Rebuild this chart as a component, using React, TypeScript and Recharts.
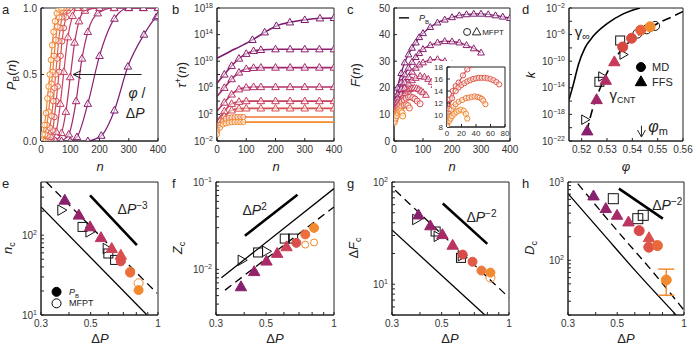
import React from 'react';
import { ComposedChart, Line, XAxis, YAxis, ReferenceDot, ReferenceArea, ErrorBar } from 'recharts';

const FONT = '"Liberation Sans", Arial, sans-serif';
const INK = '#222';
const TXT = '#333';

// colour ramp: small dP (purple) -> large dP (orange)
const RAMP = ['#7B1B6F', '#8E1F6E', '#A2276B', '#B63166', '#C83E5D', '#D64D50', '#E26343', '#EC7736', '#F3892B'];
const TRI_C = ['#87206E', '#96236A', '#A82A67', '#BC3461', '#CC4257', '#D9504C'];

// ---------- a: P_B(n)
const aTicksX = [0, 100, 200, 300, 400];
const aTicksY = [0, 0.5, 1];
const aCurves = [
  [[160, 0], [206, 0.04], [251, 0.23], [297, 0.56], [352, 0.8], [394, 0.93], [400, 0.94]],
  [[100, 0], [123, 0.03], [160, 0.28], [200, 0.64], [251, 0.92], [300, 1], [350, 1], [400, 1]],
  [[70, 0], [95, 0.05], [120, 0.3], [140, 0.62], [160, 0.82], [194, 0.96], [250, 1], [300, 1], [350, 1], [400, 1]],
  [[50, 0], [70, 0.06], [85, 0.22], [100, 0.48], [115, 0.74], [130, 0.9], [150, 0.98], [200, 1], [250, 1]],
  [[35, 0], [52, 0.07], [66, 0.28], [78, 0.52], [92, 0.78], [108, 0.94], [125, 1], [150, 1]],
  [[25, 0], [33, 0.03], [40, 0.08], [46, 0.18], [52, 0.3], [57, 0.41], [62, 0.52], [67, 0.64], [72, 0.75], [78, 0.85], [85, 0.93], [92, 0.98], [100, 1]],
  [[15, 0], [22, 0.04], [30, 0.1], [36, 0.19], [42, 0.3], [46, 0.4], [50, 0.5], [55, 0.62], [60, 0.75], [66, 0.85], [72, 0.93], [80, 0.98], [88, 1]],
  [[8, 0], [14, 0.05], [20, 0.12], [26, 0.22], [32, 0.35], [36, 0.43], [40, 0.52], [45, 0.64], [50, 0.76], [56, 0.86], [62, 0.93], [70, 0.98], [78, 1]],
  [[0, 0.02], [6, 0.05], [12, 0.12], [17, 0.21], [22, 0.32], [26, 0.41], [30, 0.5], [34, 0.61], [38, 0.72], [43, 0.82], [48, 0.9], [54, 0.96], [60, 0.99], [70, 1]],
];
const aArrow = [[344, 0.5], [110, 0.5]];

// ---------- b: tau+(n)
const bTicksX = [0, 100, 200, 300, 400];
const bTicksY = [1e-2, 1, 1e2, 1e4, 1e6, 1e8, 1e10, 1e12, 1e14, 1e16, 1e18];
const bCurves = [
  [[0, 2.8e10], [25, 1e11], [50, 4e11], [75, 1.3e12], [100, 5e12], [121, 1.6e13], [163, 2.2e14], [203, 2e15], [249, 7e15], [300, 1.6e16], [352, 2.8e16], [400, 3.2e16]],
  [[0, 5e6], [25, 1e8], [50, 2e9], [75, 2.5e10], [100, 1.3e11], [125, 3.5e11], [150, 5e11], [200, 6.3e11], [250, 6.3e11], [300, 6.3e11], [350, 6.3e11], [400, 6.3e11]],
  [[0, 5e4], [25, 1e6], [50, 2e7], [75, 2e8], [100, 7e8], [125, 1e9], [150, 1.1e9], [200, 1.1e9], [250, 1.1e9], [300, 1.1e9], [350, 1.1e9], [400, 1.1e9]],
  [[0, 300], [25, 6e3], [50, 1e5], [75, 6e5], [100, 1.1e6], [125, 1.3e6], [150, 1.3e6], [200, 1.3e6], [250, 1.3e6], [300, 1.3e6], [350, 1.3e6], [400, 1.3e6]],
  [[0, 10], [25, 300], [50, 4e3], [75, 8e3], [100, 1e4], [150, 1e4], [200, 1e4], [250, 1e4], [300, 1e4], [350, 1e4], [400, 1e4]],
  [[0, 2], [25, 50], [50, 400], [75, 750], [100, 800], [150, 800], [200, 800], [250, 800], [300, 800], [350, 800], [400, 800]],
  [[0, 0.3], [10, 3], [20, 10], [30, 20], [40, 30], [50, 35], [60, 38], [70, 40], [80, 40], [90, 40], [200, 40], [400, 40]],
  [[0, 0.1], [10, 1], [20, 3], [30, 4.5], [40, 6], [50, 6.6], [60, 7], [70, 7], [80, 7], [90, 7], [200, 7], [400, 7]],
];
const bMarkFrom = [110, 20, 20, 20, 20, 20, 0, 0];
const bMarkTo = [400, 400, 400, 400, 400, 400, 90, 90];
const bColor = [0, 1, 2, 3, 4, 5, 7, 8];

// ---------- c: F(n)
const cTicksX = [0, 100, 200, 300, 400];
const cTicksY = [0, 10, 20, 30, 40, 50];
const cCurves = [
  [[1, 10], [5, 15], [12, 20], [25, 25.5], [37, 29.5], [50, 32.5], [62, 35], [75, 37], [87, 39], [100, 40.5], [125, 42.8], [150, 44.5], [175, 45.6], [200, 46.5], [225, 47.2], [250, 47.6], [275, 47.8], [300, 47.8], [325, 47.6], [350, 47.2], [375, 46.7], [400, 46.2]],
  [[1, 9.5], [5, 13.5], [12, 17.5], [25, 22], [37, 25], [50, 27.5], [62, 29.7], [75, 31.5], [87, 33], [100, 34.5], [125, 36], [150, 37], [175, 37.5], [200, 37.4], [225, 37], [250, 36], [275, 34.8], [300, 33.2]],
  [[1, 9], [5, 12.5], [12, 16], [25, 19.5], [37, 22], [50, 24], [62, 26], [75, 27.5], [87, 28.7], [100, 29.5], [125, 30.5], [150, 30.7], [175, 30], [200, 28.8], [215, 27.8]],
  [[1, 8.5], [5, 11.5], [12, 14.5], [25, 17.5], [37, 19.8], [50, 21.5], [62, 22.8], [75, 23.7], [90, 24.4], [105, 24.1], [118, 23.3], [130, 22.2], [140, 21]],
  [[1, 8.2], [5, 11], [12, 13.3], [25, 15.5], [33, 17], [40, 18], [48, 18.9], [55, 19.5], [62, 19.9], [70, 20], [78, 19.8], [85, 19.5], [93, 18.9], [100, 18.3], [110, 17.3]],
  [[1, 8], [5, 10.3], [10, 11.5], [15, 12.6], [20, 13.5], [27, 14.6], [35, 15.5], [42, 16.1], [50, 16.5], [57, 16.6], [65, 16.3], [72, 15.8], [80, 15], [90, 14]],
  [[1, 7.5], [5, 9.5], [10, 10.5], [15, 11.4], [20, 12.2], [27, 13], [35, 13.5], [42, 13.6], [48, 13.3], [53, 12.4]],
  [[1, 7], [5, 8.6], [10, 9.6], [15, 10.5], [20, 11], [24, 11.2], [28, 10.6], [30, 9.4]],
];
const cColor = [0, 1, 2, 3, 4, 5, 6, 8];
const cLegendLine = [[17, 46.3], [52, 46.3]];

// inset of c
const ciTicksX = [0, 20, 40, 60, 80];
const ciTicksY = [8, 10, 12, 14, 16, 18];
const ciCurves = [
  [[0, 8.5], [2, 10.5], [4, 12.6], [8, 14], [12, 14.8], [16, 15.4], [22, 16.6], [28, 17.6], [33, 18.3]],
  [[0, 8.4], [3, 11], [7, 12.8], [12, 14], [16, 14.6], [20, 15], [24, 15.3], [28, 15.6], [32, 15.8], [36, 16], [40, 16.1], [44, 16.2], [48, 16.2], [52, 16.2], [56, 16.1], [60, 16], [64, 15.8], [68, 15.5], [72, 15.1]],
  [[0, 8.3], [3, 9.8], [6, 10.9], [9, 11.4], [12, 11.8], [16, 12.2], [21, 12.5], [26, 12.8], [30, 12.9], [34, 13], [38, 13.1], [42, 13], [45, 12.9], [48, 12.7], [50, 12.4], [53, 11.8]],
  [[0, 8.1], [3, 9], [5, 9.4], [7, 9.8], [10, 10.2], [13, 10.5], [16, 10.7], [19, 10.9], [23, 10.7], [26, 10.2], [28, 9.4]],
];
const ciColor = ['#D64D50', '#DE5846', '#EC7736', '#F3892B'];

// ---------- d: k vs phi
const dTicksX = [0.52, 0.53, 0.54, 0.55, 0.56];
const dTicksY = [1e-22, 1e-20, 1e-18, 1e-16, 1e-14, 1e-12, 1e-10, 1e-8, 1e-6, 1e-4, 1e-2];
const dGammaInf = [[0.515, 1.6e-16], [0.5167, 3e-14], [0.5187, 3e-11], [0.5213, 1e-8], [0.5246, 6e-7], [0.5299, 4e-5], [0.5364, 1.3e-3], [0.543, 1e-2]];
const dGammaCnt = [[0.522, 2.5e-21], [0.5246, 1.6e-17], [0.5279, 3e-14], [0.5325, 1e-10], [0.5378, 3.5e-8], [0.543, 1.3e-6], [0.5496, 4e-5], [0.5562, 6e-4], [0.56, 3e-3]];
const dTri = [[0.5222, 3.2e-21], [0.5259, 1.6e-16], [0.5295, 1.3e-13], [0.5329, 8e-11]];
const dCirc = [[0.5362, 1.4e-8], [0.5397, 2.8e-7], [0.5433, 4.7e-6], [0.547, 1.5e-5]];
const dSq = [[0.527, 8e-14], [0.5352, 1.3e-7]];
const dRtri = [[0.5213, 1.6e-19], [0.528, 5e-13], [0.5364, 1e-9]];
const dOpen = [[0.542, 1.4e-6], [0.5457, 6.3e-6], [0.549, 2e-5]];
const dArrow = [[0.5436, 2e-20], [0.5436, 4e-22]];
const dTriC = ['#87206E', '#A02768', '#B02D63', '#C93A5A'];
const dCircC = ['#D6453F', '#DB4C40', '#E8613A', '#F28A2E'];

// ---------- bottom row, shared ticks
const dpTicks = [0.3, 0.4, 0.5, 0.6, 0.7, 0.8, 0.9, 1];

// e: n_c
const eTicksY = [10, 20, 30, 40, 50, 60, 70, 80, 90, 100, 200, 300, 400];
const eTri = [[0.383, 274], [0.443, 178], [0.497, 127], [0.556, 93], [0.621, 68], [0.682, 56]];
const eCirc = [[0.682, 47], [0.751, 34], [0.819, 20.5]];
const eOpenCirc = [[0.751, 35], [0.819, 25]];
const eSq = [[0.46, 127], [0.6, 59], [0.643, 49]];
const eRtri = [[0.37, 206], [0.494, 110], [0.59, 68]];
const eSolid = [[0.3, 226], [0.893, 10]];
const eDash = [[0.317, 464], [0.99, 18.7]];
const eSlope = [[0.497, 316], [0.805, 75]];
const eCircC = ['#D9504A', '#EB6E3B', '#F28A2E'];

// f: Z_c
const fTicksY = [0.003, 0.004, 0.005, 0.006, 0.007, 0.008, 0.009, 0.01, 0.02, 0.03, 0.04, 0.05, 0.06, 0.07, 0.08, 0.09, 0.1];
const fTri = [[0.387, 0.0063], [0.443, 0.0094], [0.502, 0.0124], [0.56, 0.0152], [0.616, 0.0181]];
const fCirc = [[0.681, 0.0201], [0.746, 0.0251], [0.816, 0.0298]];
const fOpenCirc = [[0.746, 0.0192], [0.816, 0.0203]];
const fSq = [[0.461, 0.0156], [0.605, 0.0225], [0.659, 0.0225]];
const fRtri = [[0.39, 0.0127], [0.5, 0.0161]];
const fSolid = [[0.317, 0.008], [1, 0.084]];
const fDash = [[0.329, 0.00578], [1, 0.0518]];
const fSlope = [[0.403, 0.0242], [0.689, 0.0716]];
const fCircC = ['#D9504A', '#EB6E3B', '#F28A2E'];

// g: dF_c
const gTicksY = [5, 6, 7, 8, 9, 10, 20, 30, 40, 50, 60, 70, 80, 90, 100];
const gTri = [[0.394, 47.5], [0.445, 37.2], [0.504, 30.5], [0.56, 24]];
const gCirc = [[0.621, 19.5], [0.687, 16.6], [0.753, 13.6], [0.826, 13]];
const gOpenCirc = [[0.826, 11.6]];
const gSq = [[0.47, 32.8], [0.61, 18.1]];
const gRtri = [[0.385, 43], [0.48, 29.4], [0.615, 19]];
const gSolid = [[0.3, 34], [0.78, 5]];
const gDash = [[0.31, 83], [1, 7.4]];
const gSlope = [[0.506, 61.6], [0.8, 24.8]];
const gCircC = ['#D9494A', '#E05A45', '#EC7A3C', '#F28A2E'];

// h: D_c
const hTicksY = [20, 30, 40, 50, 60, 70, 80, 90, 100, 200, 300, 400, 500, 600, 700, 800, 900, 1000];
const hTri = [[0.391, 662], [0.444, 457], [0.499, 375], [0.562, 308], [0.695, 194]];
const hCirc = [[0.628, 239], [0.694, 147], [0.759, 154]];
const hErrPt = [[0.832, 56]];
const hErr = [[20.3, 21]];
const hSq = [[0.48, 612], [0.619, 340], [0.655, 375]];
const hSolid = [[0.3, 710], [0.431, 219], [0.61, 71], [0.923, 19.9]];
const hDash = [[0.332, 952], [0.513, 219], [0.724, 71], [1, 23]];
const hSlope = [[0.509, 822], [0.803, 340]];
const hTriC = ['#87206E', '#96236A', '#A82A67', '#BC3461', '#D9504C'];
const hCircC = ['#D9494A', '#DE5446', '#E86A3A'];

// ---------------------------------------------------------------
const YW = 40;
const XH = 22;
const PT = 6;
const PR = 12;

const rows = (pts: number[][]) => pts.map(([x, y]) => ({ x, y }));

function Mark({ cx, cy, kind, color, s, fill }: any) {
  if (!Number.isFinite(cx) || !Number.isFinite(cy)) return <g />;
  const st = { stroke: color, strokeWidth: 1, fill };
  if (kind === 'tri')
    return <polygon points={`${cx},${cy - s} ${cx + s * 0.95},${cy + s * 0.65} ${cx - s * 0.95},${cy + s * 0.65}`} {...st} />;
  if (kind === 'rtri')
    return <polygon points={`${cx + s},${cy} ${cx - s * 0.65},${cy - s * 0.95} ${cx - s * 0.65},${cy + s * 0.95}`} {...st} />;
  if (kind === 'sq') return <rect x={cx - s} y={cy - s} width={2 * s} height={2 * s} {...st} />;
  return <circle cx={cx} cy={cy} r={s} {...st} />;
}

type SOpt = {
  mark?: string; s?: number; fill?: string; colors?: string[]; noLine?: boolean;
  w?: number; dash?: string; type?: any; from?: number; to?: number;
};

function series(id: string, pts: number[][], color: string, o: SOpt = {}) {
  const dot = o.mark
    ? (p: any) => {
        const x = p.payload ? p.payload.x : 0;
        if ((o.from != null && x < o.from) || (o.to != null && x > o.to)) return <g key={id + p.index} />;
        const c = o.colors ? o.colors[p.index % o.colors.length] : color;
        const f = o.fill === 'self' ? c : o.fill ?? 'none';
        return <Mark key={id + p.index} cx={p.cx} cy={p.cy} kind={o.mark} color={c} s={o.s ?? 3.5} fill={f} />;
      }
    : false;
  return (
    <Line
      key={id}
      data={rows(pts)}
      dataKey="y"
      type={o.type ?? 'monotone'}
      stroke={o.noLine ? 'none' : color}
      strokeWidth={o.w ?? 1.2}
      strokeDasharray={o.dash}
      dot={dot as any}
      activeDot={false}
      isAnimationActive={false}
    />
  );
}

// markers only, one colour per point
const marks = (id: string, pts: number[][], kind: string, colors: string[], s: number, fill: string) =>
  series(id, pts, colors[0], { mark: kind, colors, s, fill, noLine: true, type: 'linear' });

function shapeAt(id: string, x: number, y: number, draw: (cx: number, cy: number) => React.ReactNode) {
  return (
    <ReferenceDot key={id} x={x} y={y} r={0} ifOverflow="visible"
      shape={(p: any) => <g>{draw(p.cx, p.cy)}</g>} />
  );
}

function note(id: string, x: number, y: number, content: React.ReactNode, size = 13, anchor = 'middle') {
  return shapeAt(id, x, y, (cx, cy) => (
    <text x={cx} y={cy} dy="0.35em" textAnchor={anchor} fontSize={size} fill={INK} fontFamily={FONT}>{content}</text>
  ));
}

function XTick(props: any) {
  const { x, y, payload, fmt, size } = props;
  const t = fmt(payload.value);
  if (t == null) return <g />;
  return <text x={x} y={y} dy="0.71em" textAnchor="middle" fontSize={size} fill={TXT} fontFamily={FONT}>{t}</text>;
}

function YTick(props: any) {
  const { x, y, payload, fmt, size } = props;
  const t = fmt(payload.value);
  if (t == null) return <g />;
  return <text x={x} y={y} dy="0.35em" textAnchor="end" fontSize={size} fill={TXT} fontFamily={FONT}>{t}</text>;
}

const fmtInt = (v: number) => String(v);
const fmtDp = (v: number) => ([0.3, 0.5, 1].includes(v) ? String(v) : null);
const pow = (exps: number[]) => (v: number) => {
  const l = Math.log10(v);
  const e = Math.round(l);
  if (Math.abs(l - e) > 1e-6 || !exps.includes(e)) return null;
  return <>10<tspan dy={-4} fontSize={7}>{e < 0 ? '\u2212' + -e : e}</tspan></>;
};

function xAx(dom: number[], ticks: number[], fmt: any, log = false, size = 10, h = XH) {
  return (
    <XAxis key="xa" dataKey="x" type="number" domain={dom} ticks={ticks} interval={0}
      scale={log ? 'log' : 'linear'} allowDataOverflow height={h} stroke={INK}
      tickSize={-3} tickMargin={size > 9 ? 8 : 6} tick={<XTick fmt={fmt} size={size} />} />
  );
}

function yAx(dom: number[], ticks: number[], fmt: any, log = false, size = 10, w = YW) {
  return (
    <YAxis key="ya" type="number" domain={dom} ticks={ticks} interval={0}
      scale={log ? 'log' : 'linear'} allowDataOverflow width={w} stroke={INK}
      tickSize={-3} tickMargin={7} tick={<YTick fmt={fmt} size={size} />} />
  );
}

// tick marks on the top and right edges of the box
function mirrors(xd: number[], xt: number[], xlog: boolean, yd: number[], yt: number[], ylog: boolean) {
  return [
    <XAxis key="xt" xAxisId="top" orientation="top" type="number" domain={xd} ticks={xt} interval={0}
      scale={xlog ? 'log' : 'linear'} allowDataOverflow height={0} stroke={INK} tickSize={-3} tick={false} />,
    <YAxis key="yr" yAxisId="right" orientation="right" type="number" domain={yd} ticks={yt} interval={0}
      scale={ylog ? 'log' : 'linear'} allowDataOverflow width={0} stroke={INK} tickSize={-3} tick={false} />,
  ];
}

const frame = (xd: number[], yd: number[]) => (
  <ReferenceArea key="frame" x1={xd[0]} x2={xd[1]} y1={yd[0]} y2={yd[1]} fill="none" stroke={INK} strokeWidth={1} ifOverflow="visible" />
);

function Frame({ rect, children, yw = YW, xh = XH }: any) {
  const [l, t, w, h] = rect;
  return (
    <div style={{ position: 'absolute', left: l - yw, top: t - PT }}>
      <ComposedChart width={yw + w + PR} height={PT + h + xh} margin={{ top: PT, right: PR, bottom: 0, left: 0 }}>
        {children}
      </ComposedChart>
    </div>
  );
}

const OPEN = 'rgba(255,255,255,0.55)';
const sub = (t: string, size = 9) => <tspan fontSize={size} dy={3}>{t}</tspan>;
const sup = (t: string, size = 9) => <tspan fontSize={size} dy={-5}>{t}</tspan>;

// ---------------------------------------------------------------
function PanelA() {
  return (
    <Frame rect={[41, 8, 117, 133]}>
      {xAx([0, 400], aTicksX, fmtInt)}
      {yAx([0, 1], aTicksY, (v: number) => v.toFixed(1))}
      {mirrors([0, 400], aTicksX, false, [0, 1], aTicksY, false)}
      {frame([0, 400], [0, 1])}
      {aCurves.map((c, i) =>
        series('a' + i, c, RAMP[i], { mark: i < 5 ? 'tri' : 'circ', s: i < 5 ? 4 : 2.8, fill: OPEN }))}
      {series('aArrow', aArrow, INK, { type: 'linear', w: 1 })}
      {shapeAt('aHead', aArrow[1][0], aArrow[1][1], (cx, cy) => (
        <path d={`M${cx + 8},${cy - 4} L${cx},${cy} L${cx + 8},${cy + 4}`} stroke={INK} fill="none" strokeWidth={1} />
      ))}
      {note('aPhi', 328, 0.36, <><tspan fontStyle="italic">{'\u03c6'}</tspan> /</>, 14)}
      {note('aDp', 322, 0.21, <>{'\u0394'}<tspan fontStyle="italic">P</tspan></>, 14)}
    </Frame>
  );
}

function PanelB() {
  return (
    <Frame rect={[217, 8, 117, 133]}>
      {xAx([0, 400], bTicksX, fmtInt)}
      {yAx([1e-2, 1e18], bTicksY, pow([-2, 2, 6, 10, 14, 18]), true)}
      {mirrors([0, 400], bTicksX, false, [1e-2, 1e18], bTicksY, true)}
      {frame([0, 400], [1e-2, 1e18])}
      {bCurves.map((c, i) =>
        series('b' + i, c, RAMP[bColor[i]], {
          mark: i < 6 ? 'tri' : 'circ', s: i < 6 ? 4 : 2.6, fill: OPEN, from: bMarkFrom[i], to: bMarkTo[i], w: 1.6,
        }))}
    </Frame>
  );
}

function PanelC() {
  return (
    <>
      <Frame rect={[394, 8, 116, 133]}>
        {xAx([0, 400], cTicksX, fmtInt)}
        {yAx([0, 50], cTicksY, fmtInt)}
        {mirrors([0, 400], cTicksX, false, [0, 50], cTicksY, false)}
        {frame([0, 400], [0, 50])}
        {cCurves.map((c, i) =>
          series('c' + i, c, RAMP[cColor[i]], { mark: i < 5 ? 'tri' : 'circ', s: i < 5 ? 3.6 : 3, fill: OPEN, w: 1.3 }))}
        {series('cLeg', cLegendLine, INK, { type: 'linear', w: 1.6 })}
        {note('cLegT', 86, 46.3, <><tspan fontStyle="italic">P</tspan>{sub('B', 6)}</>, 9, 'start')}
        {shapeAt('cLegC', 252, 41, (cx, cy) => <Mark cx={cx} cy={cy} kind="circ" color={INK} s={3.5} fill="none" />)}
        {shapeAt('cLegT2', 285, 41, (cx, cy) => <Mark cx={cx} cy={cy} kind="tri" color={INK} s={4.5} fill="none" />)}
        {note('cLegM', 304, 41, 'MFPT', 8, 'start')}
      </Frame>
      <div style={{ position: 'absolute', left: 432, top: 61, width: 76, height: 79, background: '#fff' }} />
      <Frame rect={[447, 67, 58, 60]} yw={20} xh={13}>
        {xAx([0, 80], ciTicksX, fmtInt, false, 8, 13)}
        {yAx([8, 18], ciTicksY, fmtInt, false, 8, 20)}
        {frame([0, 80], [8, 18])}
        {ciCurves.map((c, i) => series('ci' + i, c, ciColor[i], { mark: 'circ', s: 2.6, fill: OPEN, w: 1.2 }))}
      </Frame>
    </>
  );
}

function PanelD() {
  return (
    <Frame rect={[569, 8, 114, 133]}>
      {xAx([0.515, 0.56], dTicksX, (v: number) => v.toFixed(2))}
      {yAx([1e-22, 1e-2], dTicksY, pow([-22, -18, -14, -10, -6, -2]), true)}
      {mirrors([0.515, 0.56], dTicksX, false, [1e-22, 1e-2], dTicksY, true)}
      {frame([0.515, 0.56], [1e-22, 1e-2])}
      {series('dInf', dGammaInf, '#000', { w: 1.6 })}
      {series('dCnt', dGammaCnt, '#000', { w: 1.6, dash: '9 5' })}
      {marks('dSq', dSq, 'sq', ['#111'], 4.5, 'none')}
      {marks('dRt', dRtri, 'rtri', ['#111'], 5, 'none')}
      {marks('dOp', dOpen, 'circ', ['#111'], 4.5, 'none')}
      {marks('dTri', dTri, 'tri', dTriC, 6, 'self')}
      {marks('dCirc', dCirc, 'circ', dCircC, 5, 'self')}
      {series('dArr', dArrow, INK, { type: 'linear', w: 1 })}
      {shapeAt('dHead', dArrow[1][0], dArrow[1][1], (cx, cy) => (
        <path d={`M${cx - 4},${cy - 7} L${cx},${cy} L${cx + 4},${cy - 7}`} stroke={INK} fill="none" strokeWidth={1} />
      ))}
      {note('dGi', 0.5203, 2.6e-6, <>{'\u03b3'}{sub('\u221e', 11)}</>, 15)}
      {note('dGc', 0.531, 9e-16, <>{'\u03b3'}{sub('CNT', 9)}</>, 15, 'start')}
      {note('dPm', 0.5463, 1.6e-20, <><tspan fontStyle="italic">{'\u03c6'}</tspan>{sub('m', 11)}</>, 16, 'start')}
      {shapeAt('dMDm', 0.5434, 1.3e-11, (cx, cy) => <Mark cx={cx} cy={cy} kind="circ" color="#000" s={4.5} fill="#000" />)}
      {shapeAt('dFFm', 0.5434, 8e-14, (cx, cy) => <Mark cx={cx} cy={cy} kind="tri" color="#000" s={6} fill="#000" />)}
      {note('dMD', 0.5478, 1.3e-11, 'MD', 11, 'start')}
      {note('dFF', 0.5478, 8e-14, 'FFS', 11, 'start')}
    </Frame>
  );
}

const dpSlope = (exp: string) => <>{'\u0394'}<tspan fontStyle="italic">P</tspan>{sup(exp, 10)}</>;

function PanelE() {
  return (
    <Frame rect={[41, 182, 117, 133]}>
      {xAx([0.3, 1], dpTicks, fmtDp, true)}
      {yAx([10, 464], eTicksY, pow([1, 2]), true)}
      {mirrors([0.3, 1], dpTicks, true, [10, 464], eTicksY, true)}
      {frame([0.3, 1], [10, 464])}
      {series('eS', eSolid, '#000', { type: 'linear', w: 1.3 })}
      {series('eD', eDash, '#000', { type: 'linear', w: 1.3, dash: '8 5' })}
      {series('eL', eSlope, '#000', { type: 'linear', w: 2.6 })}
      {marks('eSq', eSq, 'sq', ['#111'], 4.5, 'none')}
      {marks('eRt', eRtri, 'rtri', ['#111'], 5.5, 'none')}
      {marks('eTri', eTri, 'tri', TRI_C, 6, 'self')}
      {marks('eOc', eOpenCirc, 'circ', ['#F28A2E'], 4.5, 'none')}
      {marks('eCirc', eCirc, 'circ', eCircC, 4.5, 'self')}
      {note('eT', 0.77, 215, dpSlope('\u22123'), 14)}
      {shapeAt('eLg1', 0.352, 19.5, (cx, cy) => <Mark cx={cx} cy={cy} kind="circ" color="#000" s={4.5} fill="#000" />)}
      {shapeAt('eLg2', 0.352, 14, (cx, cy) => <Mark cx={cx} cy={cy} kind="circ" color="#000" s={4.5} fill="none" />)}
      {note('eLt1', 0.4, 19.5, <><tspan fontStyle="italic">P</tspan>{sub('B', 6)}</>, 9, 'start')}
      {note('eLt2', 0.4, 14, 'MFPT', 9, 'start')}
    </Frame>
  );
}

function PanelF() {
  return (
    <Frame rect={[216, 182, 118, 133]}>
      {xAx([0.3, 1], dpTicks, fmtDp, true)}
      {yAx([0.003, 0.1], fTicksY, pow([-2, -1]), true)}
      {mirrors([0.3, 1], dpTicks, true, [0.003, 0.1], fTicksY, true)}
      {frame([0.3, 1], [0.003, 0.1])}
      {series('fS', fSolid, '#000', { type: 'linear', w: 1.3 })}
      {series('fD', fDash, '#000', { type: 'linear', w: 1.3, dash: '8 5' })}
      {series('fL', fSlope, '#000', { type: 'linear', w: 2.6 })}
      {marks('fSq', fSq, 'sq', ['#111'], 4.5, 'none')}
      {marks('fRt', fRtri, 'rtri', ['#111'], 5.5, 'none')}
      {marks('fTri', fTri, 'tri', TRI_C, 6, 'self')}
      {marks('fOc', fOpenCirc, 'circ', ['#F28A2E'], 3.5, 'none')}
      {marks('fCirc', fCirc, 'circ', fCircC, 4.5, 'self')}
      {note('fT', 0.445, 0.0474, dpSlope('2'), 14)}
    </Frame>
  );
}

function PanelG() {
  return (
    <Frame rect={[392, 182, 117, 133]}>
      {xAx([0.3, 1], dpTicks, fmtDp, true)}
      {yAx([5, 100], gTicksY, pow([1, 2]), true)}
      {mirrors([0.3, 1], dpTicks, true, [5, 100], gTicksY, true)}
      {frame([0.3, 1], [5, 100])}
      {series('gS', gSolid, '#000', { type: 'linear', w: 1.3 })}
      {series('gD', gDash, '#000', { type: 'linear', w: 1.3, dash: '8 5' })}
      {series('gL', gSlope, '#000', { type: 'linear', w: 2.6 })}
      {marks('gSq', gSq, 'sq', ['#111'], 4.5, 'none')}
      {marks('gRt', gRtri, 'rtri', ['#111'], 5.5, 'none')}
      {marks('gTri', gTri, 'tri', TRI_C, 6, 'self')}
      {marks('gOc', gOpenCirc, 'circ', ['#F28A2E'], 4.5, 'none')}
      {marks('gCirc', gCirc, 'circ', gCircC, 4.5, 'self')}
      {note('gT', 0.753, 45.8, dpSlope('\u22122'), 14)}
    </Frame>
  );
}

function PanelH() {
  const errRows = hErrPt.map(([x, y], i) => ({ x, y, err: hErr[i] }));
  return (
    <Frame rect={[568, 182, 116, 133]}>
      {xAx([0.3, 1], dpTicks, fmtDp, true)}
      {yAx([20, 1000], hTicksY, pow([2, 3]), true)}
      {mirrors([0.3, 1], dpTicks, true, [20, 1000], hTicksY, true)}
      {frame([0.3, 1], [20, 1000])}
      {series('hS', hSolid, '#000', { type: 'monotone', w: 1.3 })}
      {series('hD', hDash, '#000', { type: 'monotone', w: 1.3, dash: '8 5' })}
      {series('hL', hSlope, '#000', { type: 'linear', w: 2.6 })}
      {marks('hSq', hSq, 'sq', ['#111'], 5, 'none')}
      {marks('hTri', hTri, 'tri', hTriC, 6, 'self')}
      {marks('hCirc', hCirc, 'circ', hCircC, 5, 'self')}
      <Line key="hErr" data={errRows} dataKey="y" stroke="none" isAnimationActive={false} activeDot={false}
        dot={(p: any) => <Mark key="he" cx={p.cx} cy={p.cy} kind="circ" color="#F28A2E" s={5} fill="#F28A2E" />}>
        <ErrorBar dataKey="err" direction="y" width={8} stroke="#F28A2E" strokeWidth={1.5} />
      </Line>
      {note('hT', 0.841, 503, dpSlope('\u22122'), 14)}
    </Frame>
  );
}

function Titles() {
  const base = { fontFamily: FONT, fill: INK };
  const yT = (x: number, y: number, c: React.ReactNode) => (
    <text x={x} y={y} transform={`rotate(-90 ${x} ${y})`} textAnchor="middle" fontSize={13} {...base}>{c}</text>
  );
  const xT = (x: number, y: number, c: React.ReactNode) => (
    <text x={x} y={y} textAnchor="middle" fontSize={13} {...base}>{c}</text>
  );
  const it = (t: string) => <tspan fontStyle="italic">{t}</tspan>;
  const dP = <>{'\u0394'}{it('P')}</>;
  const letters: [string, number, number][] = [
    ['a', 2, 14], ['b', 172, 14], ['c', 347, 14], ['d', 522, 14],
    ['e', 2, 188], ['f', 172, 188], ['g', 347, 188], ['h', 522, 188],
  ];
  return (
    <svg width={700} height={350} style={{ position: 'absolute', left: 0, top: 0, pointerEvents: 'none' }}>
      {letters.map(([t, x, y]) => (
        <text key={t} x={x} y={y} fontSize={13} {...base}>{t}</text>
      ))}
      {yT(16, 75, <>{it('P')}{sub('B')}<tspan dy={-3}>(</tspan>{it('n')})</>)}
      {yT(186, 75, <>{it('\u03c4')}{sup('+')}<tspan dy={5}>(</tspan>{it('n')})</>)}
      {yT(360, 75, <>{it('F')}({it('n')})</>)}
      {yT(535, 75, it('k'))}
      {xT(100, 171, it('n'))}
      {xT(276, 171, it('n'))}
      {xT(452, 171, it('n'))}
      {xT(626, 171, it('\u03c6'))}
      {yT(12, 248, <>{it('n')}{sub('c')}</>)}
      {yT(182, 248, <>{it('Z')}{sub('c')}</>)}
      {yT(358, 248, <>{'\u0394'}{it('F')}{sub('c')}</>)}
      {yT(534, 248, <>{it('D')}{sub('c')}</>)}
      {xT(100, 343, dP)}
      {xT(275, 343, dP)}
      {xT(450, 343, dP)}
      {xT(626, 343, dP)}
    </svg>
  );
}

export default function App() {
  return (
    <div style={{ position: 'absolute', left: 0, top: 0, width: 700, height: 350, background: '#fff', fontFamily: FONT, overflow: 'hidden' }}>
      <PanelA />
      <PanelB />
      <PanelC />
      <PanelD />
      <PanelE />
      <PanelF />
      <PanelG />
      <PanelH />
      <Titles />
    </div>
  );
}
